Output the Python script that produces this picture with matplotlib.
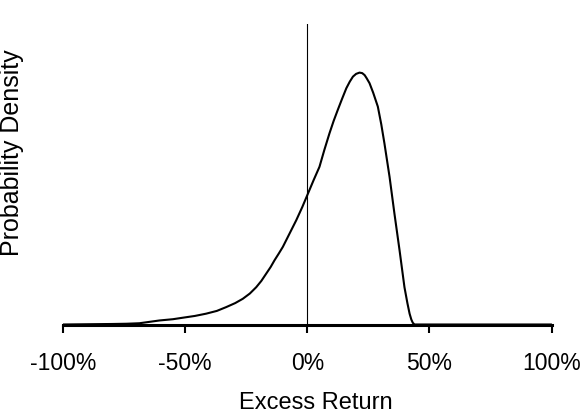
import matplotlib
matplotlib.use("Agg")
import matplotlib.pyplot as plt

# Data (relative density, peak = 1)
excess_return = [-100, -90, -80, -74, -68.7, -60.5, -55, -50.9, -46, -41.4, -37, -33.2,
                 -29.5, -26.4, -23.5, -20.9, -18.8, -16.8, -15, -13.4, -11.7, -10, -7.3,
                 -4.5, -2, 0.3, 2.6, 5, 7, 9.1, 10.8, 12.5, 14.3, 16, 17.4, 18.7, 20,
                 21.4, 22.5, 23.5, 24.3, 25.5, 27, 28.9, 30.3, 31.6, 33.7, 35.7, 37.8,
                 39.8, 41.0, 41.9, 42.6, 43.2, 43.9, 45, 50, 75, 100]
density = [0, 0.001, 0.002, 0.003, 0.005, 0.016, 0.021, 0.027, 0.034, 0.043, 0.054, 0.069,
           0.085, 0.102, 0.123, 0.148, 0.173, 0.202, 0.228, 0.255, 0.281, 0.308, 0.36,
           0.414, 0.467, 0.52, 0.573, 0.626, 0.693, 0.759, 0.808, 0.852, 0.897, 0.938, 0.964,
           0.984, 0.995, 1.0, 0.998, 0.99, 0.978, 0.958, 0.92, 0.865, 0.795, 0.719, 0.586,
           0.44, 0.294, 0.148, 0.085, 0.043, 0.02, 0.007, 0.0, 0, 0, 0, 0]
tick_values = [-100, -50, 0, 50, 100]
tick_labels = ["-100%", "-50%", "0%", "50%", "100%"]

plt.rcParams['font.family'] = ['Liberation Sans', 'DejaVu Sans']

fig = plt.figure(figsize=(5.84, 4.2), dpi=100)
ax = fig.add_axes([63/584, 1 - 324.5/420, (551.5 - 63)/584, (324.5 - 24)/420])

ax.plot(excess_return, density, color='black', lw=1.5,
        solid_joinstyle='round', solid_capstyle='round')
ax.axvline(0, color='black', lw=0.8)

ax.set_xlim(-100, 100)
ax.set_ylim(0, 1.193)

for s in ['top', 'right', 'left']:
    ax.spines[s].set_visible(False)
ax.spines['bottom'].set_linewidth(2.2)
ax.spines['bottom'].set_capstyle('projecting')
ax.set_yticks([])
ax.set_xticks(tick_values)
ax.set_xticklabels(tick_labels)
ax.tick_params(axis='x', direction='out', length=6, width=1.5, pad=14,
               labelsize=16.5, colors='black')

fig.text(315.5/584, 1 - 409.3/420, "Excess Return", ha='center', va='baseline',
         fontsize=17)
fig.text(11.7/584, 1 - 153/420, "Probability Density", ha='center', va='center',
         rotation=90, fontsize=18)

fig.savefig("out.png", dpi=100)
